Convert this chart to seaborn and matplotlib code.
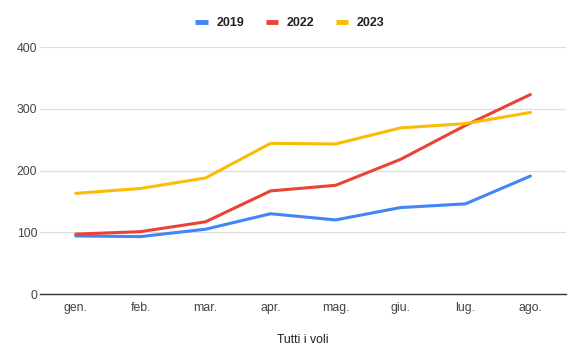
import matplotlib
matplotlib.use("Agg")
import matplotlib.pyplot as plt
import seaborn as sns
import pandas as pd

months = ["gen.", "feb.", "mar.", "apr.", "mag.", "giu.", "lug.", "ago."]
v2019 = [94, 93, 105, 130, 120, 140, 146, 191]
v2022 = [97, 101, 117, 167, 176, 218, 273, 323]
v2023 = [163, 171, 188, 244, 243, 269, 276, 294]
series = ["2019", "2022", "2023"]
colors = ["#4285F4", "#EA4335", "#FBBC04"]

df = pd.DataFrame({"mese": months * 3,
                   "valore": v2019 + v2022 + v2023,
                   "anno": [s for s in series for _ in months]})
df["pos"] = list(range(len(months))) * 3

sns.set_style("white")
plt.rcParams["font.family"] = ["Liberation Sans", "DejaVu Sans"]

fig = plt.figure(figsize=(5.8, 3.59), dpi=100)
ax = fig.add_axes([0.069, 0.181, 0.907, 0.688])

sns.lineplot(data=df, x="pos", y="valore", hue="anno", palette=colors,
             linewidth=2.2, ax=ax, legend=False)

ax.set_xlim(-0.55, len(months) - 0.45)
ax.set_ylim(0, 400)
ax.set_yticks([0, 100, 200, 300, 400])
ax.set_xticks(range(len(months)))
ax.set_xticklabels(months)
ax.tick_params(axis="both", length=0, labelsize=8.8, labelcolor="#444444")
ax.tick_params(axis="x", pad=6)
ax.tick_params(axis="y", pad=2)
ax.grid(axis="y", color="#dddddd", linewidth=0.9)
ax.set_axisbelow(True)
for s in ["top", "right", "left"]:
    ax.spines[s].set_visible(False)
ax.spines["bottom"].set_color("#333333")
ax.spines["bottom"].set_linewidth(1.0)
ax.set_xlabel("Tutti i voli", fontsize=8.8, color="#222222", labelpad=14)
ax.set_ylabel("")

handles = [plt.Line2D([0], [0], color=c, linewidth=3.5, solid_capstyle="butt")
           for c in colors]
leg = fig.legend(handles, series, loc="center", bbox_to_anchor=(0.5, 0.936),
                 ncol=3, frameon=False, handlelength=1.0, columnspacing=1.7,
                 handletextpad=0.7, prop={"weight": "bold", "size": 9})
for t in leg.get_texts():
    t.set_color("#222222")

fig.savefig("out.png", dpi=100)
